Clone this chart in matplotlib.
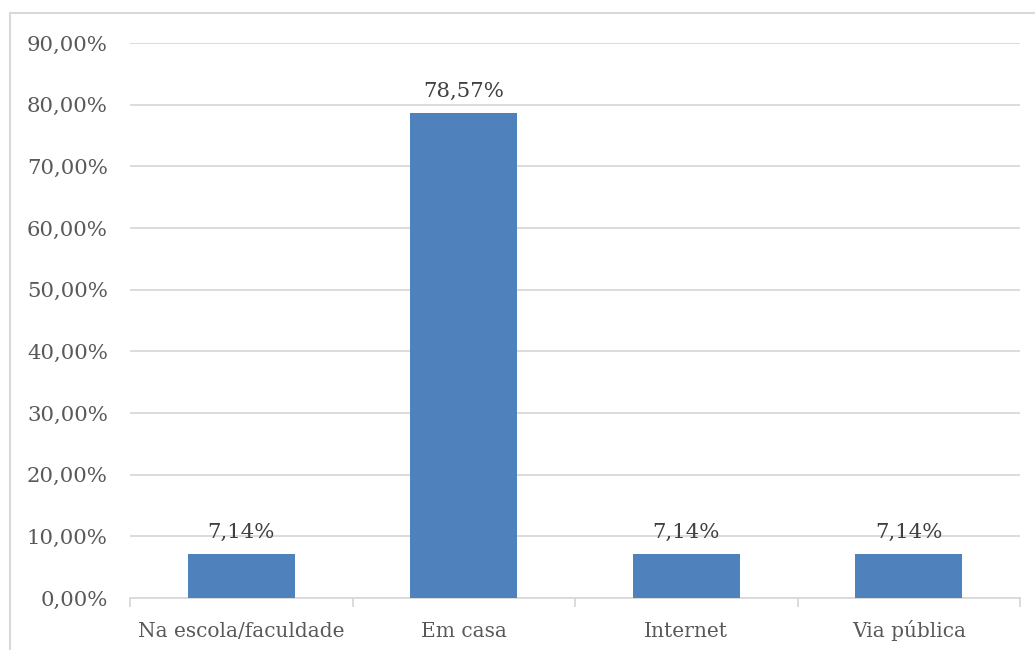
import matplotlib
matplotlib.use("Agg")
import matplotlib.pyplot as plt
from matplotlib.patches import Rectangle
from matplotlib.ticker import FuncFormatter, FixedLocator

categories = ["Na escola/faculdade", "Em casa", "Internet", "Via pública"]
values = [7.14, 78.57, 7.14, 7.14]
y_ticks = [0, 10, 20, 30, 40, 50, 60, 70, 80, 90]

bar_color = "#4f81bd"
grid_color = "#d9d9d9"
text_color = "#595959"
font = ["DejaVu Serif"]

fig = plt.figure(figsize=(10.35, 6.5), dpi=100)
fig.patch.set_facecolor("white")

# outer chart frame
fig.patches.append(Rectangle((10 / 1035, -0.05), 1.2, 1 - 13 / 650 + 0.05,
                             transform=fig.transFigure, fill=False,
                             edgecolor="#d9d9d9", linewidth=1.5))

ax = fig.add_axes([130 / 1035, 1 - 598 / 650, 890 / 1035, (598 - 43) / 650])
x = range(len(categories))
ax.bar(x, values, width=0.48, color=bar_color, zorder=3)

ax.set_xlim(-0.5, len(categories) - 0.5)
ax.set_ylim(0, 90)
ax.set_yticks(y_ticks)
ax.yaxis.set_major_formatter(FuncFormatter(lambda v, _: f"{v:.2f}%".replace(".", ",")))
ax.grid(axis="y", color=grid_color, linewidth=1.3, zorder=0)
ax.tick_params(axis="y", length=0, pad=16, labelsize=15.3, labelcolor=text_color)

ax.set_xticks(list(x))
ax.set_xticklabels(categories)
ax.tick_params(axis="x", length=0, pad=28, labelsize=14.5, labelcolor=text_color)
# category separators on the x axis
ax.xaxis.set_minor_locator(FixedLocator([i - 0.5 for i in range(len(categories) + 1)]))
ax.tick_params(axis="x", which="minor", length=6.5, width=1.3, color=grid_color)

for lab in ax.get_xticklabels():
    lab.set_family(font)
    lab.set_verticalalignment("baseline")
for lab in ax.get_yticklabels():
    lab.set_family(font)

for side in ["top", "right", "left"]:
    ax.spines[side].set_visible(False)
ax.spines["bottom"].set_color(grid_color)
ax.spines["bottom"].set_linewidth(1.3)

for xi, v in zip(x, values):
    ax.annotate(f"{v:.2f}%".replace(".", ","), (xi, v), xytext=(0, 9),
                textcoords="offset points", ha="center", va="bottom",
                fontsize=15.3, color="#404040", family=font)

fig.savefig("out.png", dpi=100, facecolor="white")
